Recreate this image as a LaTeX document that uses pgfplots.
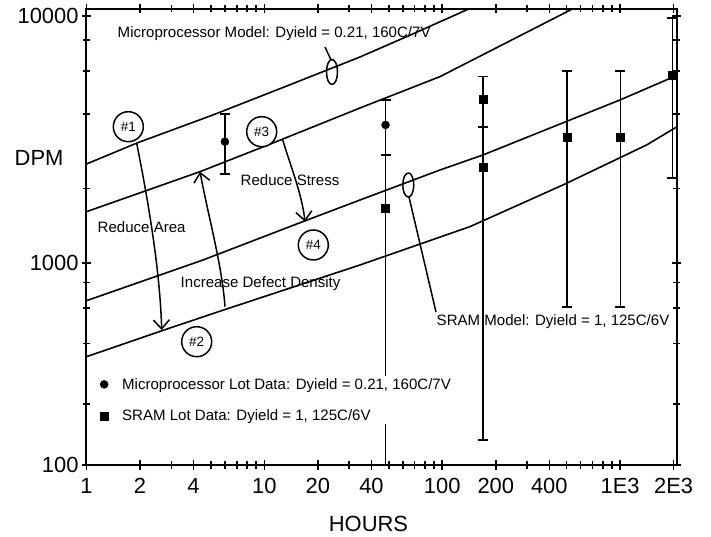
\documentclass[border=0pt]{standalone}
\usepackage{fontspec}
\setmainfont{Liberation Sans}
\usepackage{pgfplots}
\pgfplotsset{compat=1.18}
\usetikzlibrary{arrows.meta,plotmarks}
\newcommand{\ann}{\fontsize{15.1}{17}\selectfont}
\newcommand{\bigtxt}{\fontsize{22}{26}\selectfont}
\begin{document}
\begin{tikzpicture}
\path[use as bounding box] (-86.5bp,-72bp) rectangle (624.5bp,465bp);
\begin{axis}[
  at={(0,0)}, anchor=south west,
  scale only axis, width=590.2bp, height=456bp,
  xmode=log, xmin=1, xmax=2080,
  % the scanned DPM axis has unequal decades: 100-1000 and 1000-10000
  y coord trafo/.code={\pgfmathsetmacro\dpmu{ln(#1)/2.302585}%
    \pgfmathparse{\dpmu<3 ? (\dpmu-2)*202 : 202+(\dpmu-3)*247}},
  ymin=100, ymax=10670,
  xtick={1,2,4,10,20,40,100,200,400,1000,2000},
  xticklabels={1,2,4,10,20,40,100,200,400,1E3,2E3},
  minor xtick={3,5,6,7,8,9,30,50,60,70,80,90,300,500,600,700,800,900},
  ytick={100,1000,10000},
  yticklabels={100,1000,10000},
  minor ytick={200,400,600,800,2000,4000,6000,8000},
  tick align=center,
  major tick length=9bp, minor tick length=7bp,
  tick style={black, line width=1.6bp},
  axis line style={line width=2bp},
  ticklabel style={font=\bigtxt},
  xticklabel style={yshift=-5bp},
  /pgf/number format/assume math mode=true,
  legend style={at={(0.0178,0.1952)}, anchor=north west, draw=none,
    fill=white, font=\ann, inner ysep=0pt, nodes={inner ysep=2bp},
    row sep=15bp, column sep=12bp},
  legend cell align=left,
  bar/.style={black, line width=1.7bp, no marks, forget plot},
  cap/.style={black, only marks, mark=-, mark size=5bp,
    mark options={line width=1.7bp}, forget plot},
  curve/.style={black, line width=1.6bp, no marks, forget plot},
]
% model curves
\addplot[curve] coordinates {(1,2516) (1.923,3060) (5.14,3974) (13.4,5209) (34.5,6823) (65.8,8355) (162.9,11185)};
\addplot[curve] coordinates {(1,1613) (4.345,2342) (11.18,3060) (34.5,4241) (97.1,5680) (571.8,10906)};
\addplot[curve] coordinates {(1,650.7) (4.517,1028) (15.19,1438) (34.5,1799) (97.1,2379) (169.3,2736) (997.5,4570) (2080,5740)};
\addplot[curve] coordinates {(1,343.7) (2.947,476.7) (6.14,592) (34.5,977.5) (143.1,1403) (476.9,2069) (1409,3004) (2080,3553)};
% error bars
\addplot[bar] coordinates {(6,2287) (6,3999)};
\addplot[cap] coordinates {(6,2287) (6,3999)};
\addplot[bar] coordinates {(48,80) (48,4570)};
\addplot[cap] coordinates {(48,4570) (48,2736)};
\addplot[bar] coordinates {(170,132.6) (170,5680)};
\addplot[cap] coordinates {(170,132.6) (170,3563) (170,5680)};
\addplot[bar] coordinates {(504,607.7) (504,5989)};
\addplot[cap] coordinates {(504,607.7) (504,5989)};
\addplot[bar] coordinates {(1003,607.7) (1003,5989)};
\addplot[cap] coordinates {(1003,607.7) (1003,5989)};
\addplot[bar] coordinates {(1970,2209) (1970,9815)};
\addplot[cap] coordinates {(1970,2209) (1970,9815)};
% lot data
\addplot[black, only marks, mark=*, mark size=4bp] coordinates {(6,3098) (48,3621)};
\addlegendentry{Microprocessor Lot Data: Dyield = 0.21, 160C/7V}
\addplot[black, only marks, mark=square*, mark size=4bp] coordinates {(48,1665) (170,4613) (170,2431) (504,3216) (1003,3216) (1970,5769)};
\addlegendentry{SRAM Lot Data: Dyield = 1, 125C/6V}
\end{axis}
\begin{scope}[x=1bp, y=-1bp, shift={(-86.5bp,465bp)}, line width=1.5bp]
\node[anchor=west, inner sep=0pt, font=\bigtxt] at (14,157.5) {DPM};
\node[inner sep=0pt, font=\bigtxt] at (368.5,524) {HOURS};
\node[anchor=west, inner sep=0pt, font=\ann] at (117,34) {Microprocessor Model: Dyield = 0.21, 160C/7V};
\node[anchor=west, inner sep=0pt, font=\ann] at (436,322) {SRAM Model: Dyield = 1, 125C/6V};
\node[anchor=west, inner sep=0pt, font=\ann] at (97,227.5) {Reduce Area};
\node[anchor=west, inner sep=0pt, font=\ann] at (240,180) {Reduce Stress};
\node[anchor=west, inner sep=0pt, font=\ann] at (180,284) {Increase Defect Density};
\draw (332,72) ellipse [x radius=5.5, y radius=12.5];
\draw (325,47) -- (331,60);
\draw (408.3,185) ellipse [x radius=5.5, y radius=12];
\draw (409,197) -- (436,312);
\draw[-{Straight Barb[length=9bp,width=16bp]}] (136.7,143.3) .. controls (148,200) and (160,270) .. (161.7,330);
\draw[-{Straight Barb[length=9bp,width=16bp]}] (225,306.7) .. controls (222,265) and (208,215) .. (200,171.7);
\draw[-{Straight Barb[length=9bp,width=16bp]}] (282.7,140) .. controls (292,170) and (302,195) .. (305,221.7);
\foreach \cx/\cy/\t in {128.3/126.7/1, 261.7/131.7/3, 313.3/245/4, 196.7/341.7/2}
  \node[draw, circle, minimum size=30bp, inner sep=0pt, fill=white, font=\fontsize{13.5}{15}\selectfont] at (\cx,\cy) {\#\t};
\end{scope}
\end{tikzpicture}
\end{document}
